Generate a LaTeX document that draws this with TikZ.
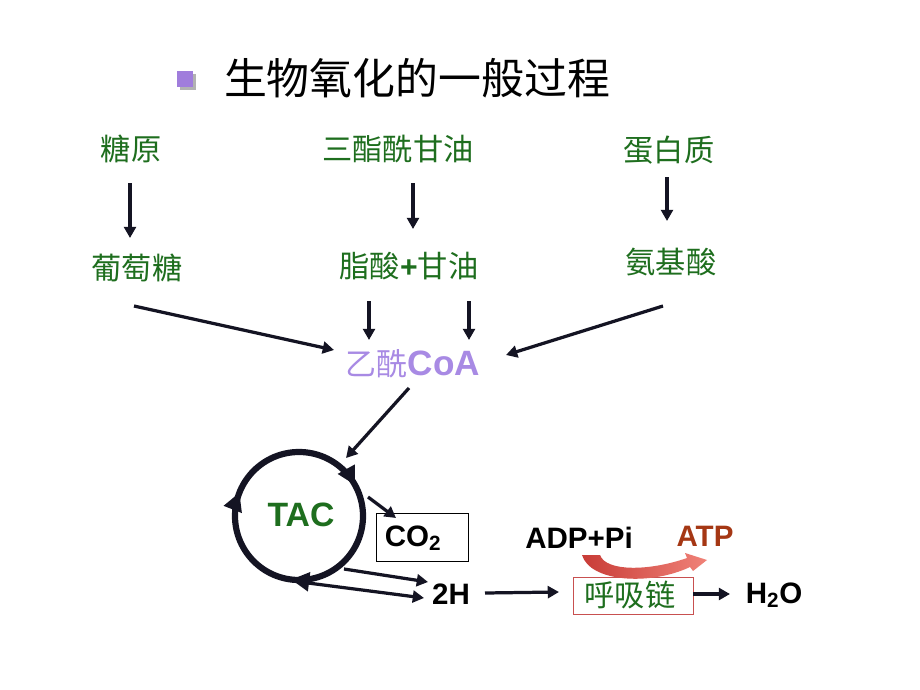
\documentclass[tikz,border=0pt]{standalone}
\usepackage{fontspec}
\setmainfont{Liberation Sans}
\newfontfamily\cjk{Noto Sans CJK SC}
\usetikzlibrary{arrows.meta,decorations.markings}
\definecolor{dkgreen}{RGB}{30,110,30}
\definecolor{lilac}{RGB}{168,138,228}
\definecolor{bulletc}{RGB}{160,125,220}
\definecolor{atpred}{RGB}{165,55,20}
\definecolor{arrowc}{RGB}{20,20,35}
\definecolor{boxred}{RGB}{200,80,80}
\definecolor{curvedark}{RGB}{200,60,55}
\definecolor{curvelight}{RGB}{240,130,120}
\begin{document}
\begin{tikzpicture}[x=0.025cm,y=-0.025cm,
  cjkg/.style={font=\cjk\fontsize{21.5}{22}\selectfont, text=dkgreen, inner sep=0pt},
  bl/.style={font=\bfseries\fontsize{21}{22}\selectfont, text=black, inner sep=0pt},
  arr/.style={draw=arrowc, line width=2.3pt, -{Triangle[length=8pt,width=8.5pt]}},
  cyc/.style={draw=arrowc, line width=4.4pt},
]
\useasboundingbox (0,0) rectangle (920,690);
\fill[white] (0,0) rectangle (920,690);

% title
\fill[gray!60] (180,74) rectangle (196,90);
\fill[bulletc] (177,71) rectangle (193,87);
\node[inner sep=0pt, font=\cjk\fontsize{30.5}{32}\selectfont] (title) at (417,78) {生物氧化的一般过程};

% top row
\node[cjkg] (tangyuan) at (131,149) {糖原};
\node[cjkg] (sanzhi) at (398,149) {三酯酰甘油};
\node[cjkg] (danbai) at (669,150) {蛋白质};
\node[cjkg] (putao) at (137,268) {葡萄糖};
\node[cjkg] (zhisuan) at (409,266) {脂酸{\bfseries\fontspec{Liberation Sans}+}甘油};
\node[cjkg] (anji) at (671,262) {氨基酸};

\coordinate (a1s) at (130,183); \coordinate (a1e) at (130,238);
\coordinate (a2s) at (413,183); \coordinate (a2e) at (413,229);
\coordinate (a3s) at (667,177); \coordinate (a3e) at (667,221);
\draw[arr] (a1s) -- (a1e);
\draw[arr] (a2s) -- (a2e);
\draw[arr] (a3s) -- (a3e);

% acetyl CoA
\node[inner sep=0pt, text=lilac] (acoa) at (413,364)
  {{\cjk\fontsize{22}{22}\selectfont 乙酰}{\bfseries\fontsize{25}{24}\selectfont CoA}};

\coordinate (b1s) at (134,306); \coordinate (b1e) at (334,350);
\coordinate (b2s) at (369,301); \coordinate (b2e) at (369,340);
\coordinate (b3s) at (469,301); \coordinate (b3e) at (469,340);
\coordinate (b4s) at (663,306); \coordinate (b4e) at (506,355);
\draw[arr] (b1s) -- (b1e);
\draw[arr] (b2s) -- (b2e);
\draw[arr] (b3s) -- (b3e);
\draw[arr] (b4s) -- (b4e);

% TAC cycle
\coordinate (cyc) at (299,516);
\draw[cyc, postaction={decorate}, decoration={markings,
   mark=at position 0.27 with {\arrow[arrowc]{Triangle[length=13pt,width=13pt]}},
   mark=at position 0.56 with {\arrow[arrowc]{Triangle[length=13pt,width=13pt]}},
   mark=at position 0.92 with {\arrow[arrowc]{Triangle[length=13pt,width=13pt]}}}]
   (cyc) circle[radius=64];
\node[inner sep=0pt, text=dkgreen, font=\bfseries\fontsize{24}{24}\selectfont] (tac) at (301,515) {TAC};

\coordinate (c0s) at (409,388); \coordinate (c0e) at (346,458);
\draw[arr] (c0s) -- (c0e);

% CO2
\node[draw=black, line width=0.6pt, inner sep=0pt,
      minimum width=2.3cm, minimum height=1.2cm] (co2box) at (422,537) {};
\node[bl] (co2) at (413,538) {CO\textsubscript{2}};
\coordinate (c1s) at (368,497); \coordinate (c1e) at (396,518);
\draw[arr] (c1s) -- (c1e);

% 2H
\node[bl] (twoh) at (451,594) {2H};
\coordinate (d1s) at (344,569); \coordinate (d1e) at (428,582);
\coordinate (d2s) at (308,583); \coordinate (d2e) at (424,598);
\draw[arr] (d1s) -- (d1e);
\draw[arr] (d2s) -- (d2e);

% respiratory chain
\node[draw=boxred, line width=0.6pt, minimum width=3.0cm, minimum height=0.92cm, inner sep=0pt] (hxbox) at (633,596) {};
\node[cjkg] (hx) at (630,595) {呼吸链};
\coordinate (e1s) at (485,593); \coordinate (e1e) at (559,592);
\draw[arr] (e1s) -- (e1e);
\node[bl] (h2o) at (774,595) {H\textsubscript{2}O};
\coordinate (e2s) at (693,594); \coordinate (e2e) at (730,594);
\draw[arr] (e2s) -- (e2e);

% ADP -> ATP
\node[bl] (adp) at (579,538) {ADP+Pi};
\node[bl, text=atpred] (atp) at (705,536) {ATP};
\shade[left color=curvedark, right color=curvelight, draw=none]
  (582,555) .. controls (590,582) and (650,586) .. (690,567)
  -- (693,571) -- (707,560) -- (685,553) -- (687,558)
  .. controls (650,571) and (606,572) .. (600,555) -- cycle;
\end{tikzpicture}
\end{document}
